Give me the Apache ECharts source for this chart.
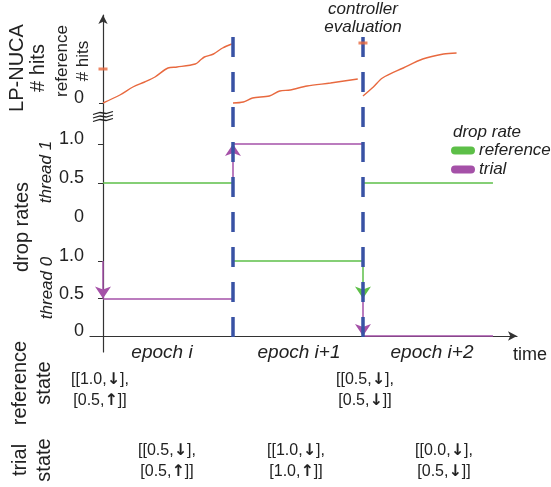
<!DOCTYPE html>
<html>
<head>
<meta charset="utf-8">
<script src="https://cdn.jsdelivr.net/npm/echarts@6/dist/echarts.min.js"></script>
<style>
  html, body { margin: 0; background: #fff; }
  #main { width: 551px; height: 487px; }
</style>
</head>
<body>
<div id="main"></div>
<script>
// epochs and controller evaluations (time in epochs)
var epochs = ['epoch i', 'epoch i+1', 'epoch i+2'];
var boundaries = [1, 2];

// LP-NUCA # hits during each epoch, [time, hits]
var hitsEpoch0 = [[0, 0], [0.13, 8], [0.23, 16], [0.32, 21], [0.40, 26], [0.50, 35], [0.57, 36],
  [0.71, 39], [0.75, 43], [0.78, 46], [0.85, 49], [0.92, 55], [0.99, 59]];
var hitsEpoch1 = [[1.0, 0], [1.08, 1], [1.15, 5], [1.28, 7], [1.36, 12], [1.44, 13], [1.57, 17],
  [1.75, 20], [1.96, 24]];
var hitsEpoch2 = [[2.0, 7], [2.08, 16], [2.15, 25], [2.31, 35], [2.46, 44], [2.62, 49], [2.72, 50]];
var referenceHits = [[0, 34], [2, 60]];

// drop rate held in each epoch (null = not drawn)
var thread1Reference = [0.5, null, 0.5];
var thread1Trial = [null, 1.0, null];
var thread0Reference = [null, 1.0, null];
var thread0Trial = [0.5, null, 0.0];
// changes of drop rate: [time, from, to]
var thread1TrialSteps = [[1, 0.5, 1.0]];
var thread0ReferenceSteps = [[2, 1.0, 0.5]];
var thread0TrialSteps = [[0, 1.0, 0.5], [2, 0.5, 0.0]];
var rateTicks = [0, 0.5, 1.0];

// controller states
var referenceStates = ['[[1.0,\u2193],\n[0.5,\u2191]]', '[[0.5,\u2193],\n[0.5,\u2193]]'];
var trialStates = ['[[0.5,\u2193],\n[0.5,\u2191]]', '[[1.0,\u2193],\n[1.0,\u2191]]', '[[0.0,\u2193],\n[0.5,\u2193]]'];

var ORANGE = '#e8693f', GREEN = '#5dbf48', PURPLE = '#a551a8', BLUE = '#3852a4', INK = '#222';
var FONT = 'Liberation Sans, Arial, Helvetica, sans-serif';

function levelSegs(levels) {
  var out = [];
  levels.forEach(function (v, i) {
    if (v !== null) out.push({ coords: [[i, v], [i + 1, v]] });
  });
  return out;
}
function stepSegs(steps) {
  return steps.map(function (s) { return { coords: [[s[0], s[1]], [s[0], s[2]]] }; });
}
function rateLabel(v) { return v === 0 ? '0' : v.toFixed(1); }

function xAx(i, show) {
  return {
    type: 'value', gridIndex: i, min: -0.1, max: 3.185, show: show,
    axisLine: { show: show, symbol: ['none', 'arrow'], symbolSize: [7, 9], lineStyle: { color: '#333', width: 1.2 } },
    axisTick: { show: false }, axisLabel: { show: false }, splitLine: { show: false },
    name: show ? 'time' : '', nameLocation: 'end', nameGap: -4,
    nameTextStyle: { fontFamily: FONT, fontSize: 18, color: INK, align: 'left', verticalAlign: 'top', padding: [10, 0, 0, 0] }
  };
}
var labelStyle = { fontFamily: FONT, fontSize: 18, color: INK, margin: 6, verticalAlign: 'bottom', lineHeight: 9 };

var hitsLine = function (d) {
  return { type: 'line', xAxisIndex: 0, yAxisIndex: 0, data: d, smooth: 0.3, showSymbol: false,
    lineStyle: { color: ORANGE, width: 1.4 }, z: 3 };
};
var segSeries = function (name, color, axis, data, arrow) {
  return { type: 'lines', name: name, coordinateSystem: 'cartesian2d', xAxisIndex: axis, yAxisIndex: axis,
    data: data, color: color, symbol: arrow ? ['none', 'arrow'] : 'none', symbolSize: 12,
    lineStyle: { color: color, width: 1.5, opacity: 1 }, z: 4, silent: true };
};

var chart = echarts.init(document.getElementById('main'));
chart.setOption({
  animation: false,
  title: { text: 'drop rate', left: 448, top: 119,
    textStyle: { fontFamily: FONT, fontSize: 17, fontStyle: 'italic', fontWeight: 'normal', color: INK } },
  legend: {
    orient: 'vertical', left: 446, top: 137, itemGap: 2, itemWidth: 22, itemHeight: 7,
    icon: 'path://M3,0 L19,0 A3,3 0 0 1 19,6 L3,6 A3,3 0 0 1 3,0 Z',
    selectedMode: false,
    data: [{ name: 'reference', itemStyle: { color: GREEN } }, { name: 'trial', itemStyle: { color: PURPLE } }],
    textStyle: { fontFamily: FONT, fontSize: 17, fontStyle: 'italic', color: INK }
  },
  grid: [
    { left: 90, right: 34, top: 15, bottom: 371 },   // hits
    { left: 90, right: 34, top: 116, bottom: 265 },  // thread 1
    { left: 90, right: 34, top: 116, bottom: 135 },  // thread 0 + time axis
    { left: 90, right: 34, top: 36, bottom: 150 }    // epoch boundaries
  ],
  xAxis: [xAx(0, false), xAx(1, false), xAx(2, true), xAx(3, false)],
  yAxis: [
    { type: 'value', gridIndex: 0, min: -13, max: 88, splitLine: { show: false },
      axisLine: { symbol: ['none', 'arrow'], symbolSize: [7, 9], lineStyle: { color: '#333', width: 1.2 } },
      axisTick: { customValues: [0], length: 4, lineStyle: { color: '#333' } },
      axisLabel: Object.assign({ customValues: [0] }, labelStyle) },
    { type: 'value', gridIndex: 1, min: 0, max: 1.359, splitLine: { show: false },
      axisLine: { show: false },
      axisTick: { show: true, customValues: [0.5, 1], length: 5, lineStyle: { color: '#333' } },
      axisLabel: Object.assign({ customValues: rateTicks, formatter: rateLabel }, labelStyle) },
    { type: 'value', gridIndex: 2, min: -0.2133, max: 2.9333, splitLine: { show: false },
      axisLine: { lineStyle: { color: '#333', width: 1.2 } },
      axisTick: { customValues: [0.5, 1], length: 5, lineStyle: { color: '#333' } },
      axisLabel: Object.assign({ customValues: rateTicks, formatter: rateLabel }, labelStyle) },
    { type: 'value', gridIndex: 3, min: 0, max: 1, show: false }
  ],
  series: [
    { type: 'line', xAxisIndex: 3, yAxisIndex: 3, data: [], z: 1,
      markLine: { silent: true, symbol: ['none', 'none'], label: { show: false },
        lineStyle: { color: BLUE, width: 3.5, type: [20, 15], opacity: 1 },
        data: boundaries.map(function (b) { return { xAxis: b }; }) } },
    hitsLine(hitsEpoch0), hitsLine(hitsEpoch1), hitsLine(hitsEpoch2),
    { type: 'scatter', xAxisIndex: 0, yAxisIndex: 0, data: referenceHits, symbol: 'rect',
      symbolSize: [9, 3], itemStyle: { color: ORANGE }, z: 5 },
    segSeries('reference', GREEN, 1, levelSegs(thread1Reference), false),
    segSeries('trial', PURPLE, 1, levelSegs(thread1Trial), false),
    segSeries('trial', PURPLE, 1, stepSegs(thread1TrialSteps), true),
    segSeries('reference', GREEN, 2, levelSegs(thread0Reference), false),
    segSeries('reference', GREEN, 2, stepSegs(thread0ReferenceSteps), true),
    segSeries('trial', PURPLE, 2, levelSegs(thread0Trial), false),
    segSeries('trial', PURPLE, 2, stepSegs(thread0TrialSteps), true)
  ]
});

// text annotations
function vtext(x, y, str, size, lh, italic) {
  return { type: 'text', x: x, y: y, rotation: Math.PI / 2, z: 10,
    style: { text: str, fontFamily: FONT, fontSize: size, lineHeight: lh, fontStyle: italic ? 'italic' : 'normal',
      fill: INK, align: 'center', verticalAlign: 'middle' } };
}
function htext(x, y, str, size, lh, italic) {
  return { type: 'text', x: x, y: y, z: 10,
    style: { text: str, fontFamily: FONT, fontSize: size, lineHeight: lh, fontStyle: italic ? 'italic' : 'normal',
      fill: INK, align: 'center', verticalAlign: 'middle' } };
}
function stateText(x, y, str) {
  var t = htext(x, y, str.replace(/([\u2191\u2193])/g, '{a|$1}'), 16, 21);
  t.style.rich = { a: { fontFamily: 'DejaVu Sans', fontWeight: 'bold', fontSize: 16, lineHeight: 21, fill: INK } };
  return t;
}
var g = [
  vtext(28, 68, 'LP-NUCA\n# hits', 20, 21),
  vtext(73, 61, 'reference\n# hits', 17, 21),
  vtext(22, 227, 'drop rates', 20, 22),
  vtext(46, 172, 'thread 1', 17, 20, true),
  vtext(47, 288, 'thread 0', 17, 20, true),
  vtext(32, 383, 'reference\nstate', 20, 24),
  vtext(32, 460, 'trial\nstate', 20, 24),
  htext(363, 18, 'controller\nevaluation', 17, 18, true)
];
var epochX = [162, 299, 432];
epochs.forEach(function (e, i) { g.push(htext(epochX[i], 353, e, 19, 20, true)); });
var refX = [100, 365];
referenceStates.forEach(function (s, i) { g.push(stateText(refX[i], 390, s)); });
var trialX = [167, 296, 444];
trialStates.forEach(function (s, i) { g.push(stateText(trialX[i], 461, s)); });
// axis break
[0, 1, 2].forEach(function (k) {
  var y = 113 + k * 3.5;
  g.push({ type: 'polyline', z: 10, shape: { points: [[93, y + 1.5], [100, y - 0.5], [106, y + 0.5], [113, y - 1.5]] },
    style: { stroke: '#222', lineWidth: 1.3, fill: null } });
});
chart.setOption({ graphic: g });
</script>
</body>
</html>
